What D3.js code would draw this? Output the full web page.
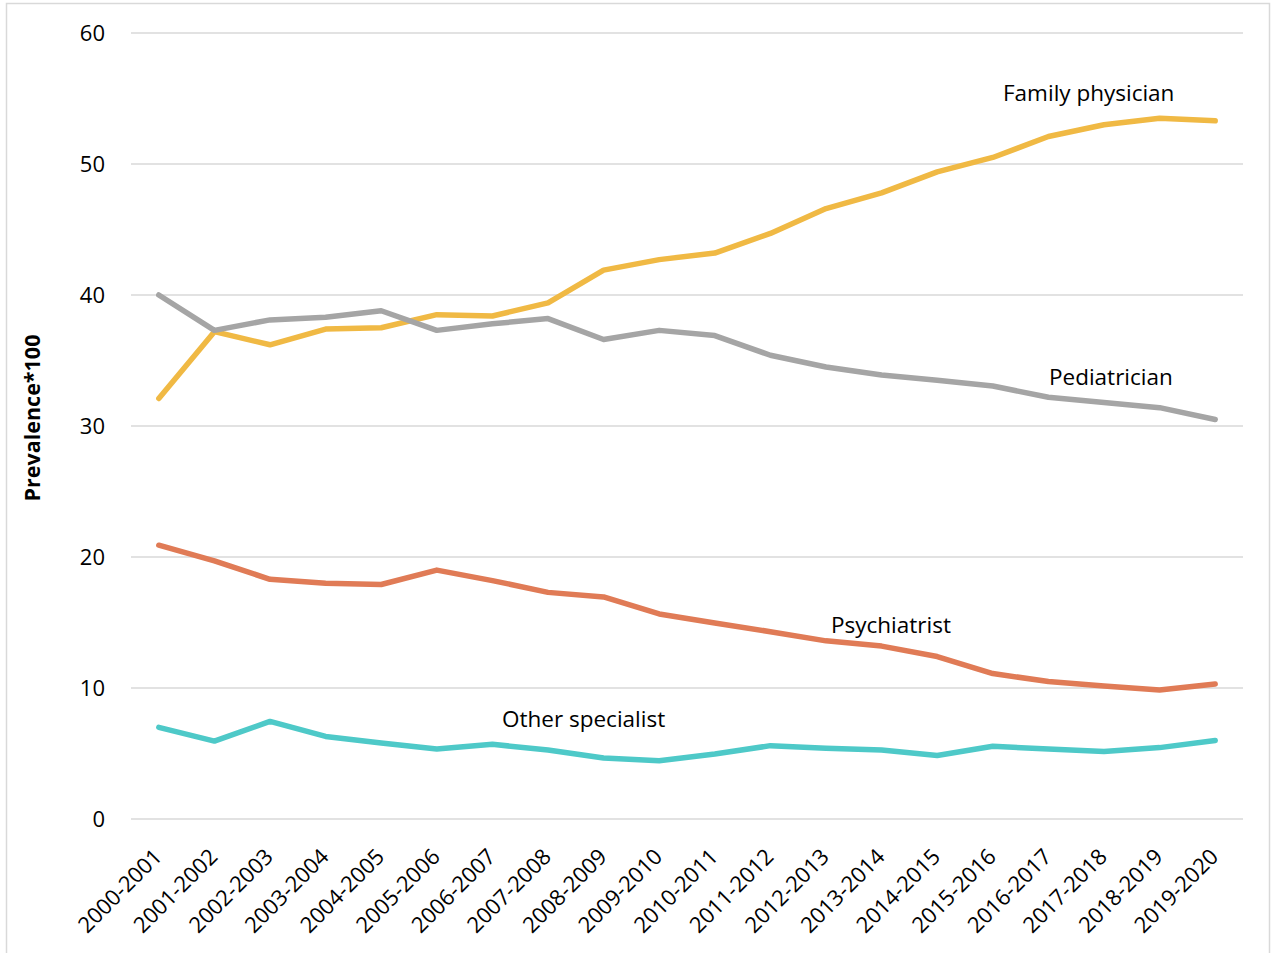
<!DOCTYPE html>
<html>
<head>
<meta charset="utf-8">
<script src="https://cdn.jsdelivr.net/npm/d3@7"></script>
<style>
  html, body { margin: 0; padding: 0; background: #fff; }
  svg { display: block; font-family: "Open Sans", "Noto Sans", sans-serif; }
</style>
</head>
<body>
<svg id="chart" width="1273" height="953"></svg>
<script>
// Fiscal-year periods
const periods = ["2000-2001","2001-2002","2002-2003","2003-2004","2004-2005","2005-2006",
  "2006-2007","2007-2008","2008-2009","2009-2010","2010-2011","2011-2012","2012-2013",
  "2013-2014","2014-2015","2015-2016","2016-2017","2017-2018","2018-2019","2019-2020"];

// Prevalence*100 by prescriber type
const familyPhysician = [32.1,37.2,36.2,37.4,37.5,38.5,38.4,39.4,41.9,42.7,43.2,44.7,46.6,47.8,49.4,50.5,52.1,53.0,53.5,53.3];
const pediatrician    = [40.0,37.3,38.1,38.3,38.8,37.3,37.8,38.2,36.6,37.3,36.9,35.4,34.5,33.9,33.5,33.05,32.2,31.8,31.4,30.5];
const psychiatrist    = [20.9,19.7,18.3,18.0,17.9,19.0,18.2,17.3,16.95,15.65,14.96,14.3,13.6,13.2,12.4,11.1,10.5,10.15,9.85,10.3];
const otherSpecialist = [7.0,5.95,7.45,6.3,5.8,5.35,5.7,5.27,4.65,4.45,4.96,5.6,5.4,5.27,4.85,5.55,5.35,5.15,5.45,6.0];

const yTicks = [0,10,20,30,40,50,60];
const yTitle = "Prevalence*100";

const series = [
  { name: "Family physician", values: familyPhysician, color: "#F0B944", label: [1003, 101] },
  { name: "Pediatrician",     values: pediatrician,    color: "#A5A5A5", label: [1049, 385] },
  { name: "Psychiatrist",     values: psychiatrist,    color: "#E07B56", label: [831, 633] },
  { name: "Other specialist", values: otherSpecialist, color: "#4EC9C8", label: [502, 727] }
];

const svg = d3.select("#chart");
const fontSize = 22;

// outer frame
svg.append("rect").attr("x", 6.5).attr("y", 3.5).attr("width", 1263).attr("height", 960)
  .attr("fill", "none").attr("stroke", "#d9d9d9").attr("stroke-width", 1.5);

const plotLeft = 131, plotRight = 1243, plotTop = 33, plotBottom = 819;

const x = d3.scalePoint().domain(periods).range([plotLeft, plotRight]).padding(0.5);
const y = d3.scaleLinear().domain([0, 60]).range([plotBottom, plotTop]);

// gridlines
svg.append("g").selectAll("line").data(yTicks).join("line")
  .attr("x1", plotLeft).attr("x2", plotRight)
  .attr("y1", d => y(d)).attr("y2", d => y(d))
  .attr("stroke", "#d9d9d9").attr("stroke-width", 1.5);

// y axis labels
const yAxis = svg.append("g").attr("transform", `translate(${plotLeft - 10},0)`)
  .call(d3.axisLeft(y).tickValues(yTicks).tickSize(0).tickPadding(16));
yAxis.select(".domain").remove();
yAxis.selectAll("text").attr("font-size", fontSize).attr("fill", "#000")
  .attr("font-family", "'Open Sans', sans-serif");

// x axis labels, rotated
const xAxis = svg.append("g").attr("transform", `translate(0,${plotBottom})`)
  .call(d3.axisBottom(x).tickSize(0).tickPadding(0));
xAxis.select(".domain").remove();
xAxis.selectAll("text")
  .attr("font-size", fontSize).attr("fill", "#000")
  .attr("font-family", "'Open Sans', sans-serif")
  .attr("text-anchor", "end")
  .attr("dy", null).attr("y", 0)
  .attr("transform", "translate(4,39) rotate(-45)");

// y title
svg.append("text")
  .attr("transform", `translate(40,418) rotate(-90)`)
  .attr("text-anchor", "middle")
  .attr("font-size", 21.5).attr("font-weight", "bold").attr("fill", "#000")
  .text(yTitle);

// lines
const line = d3.line().x((d, i) => x(periods[i])).y(d => y(d));
svg.append("g").selectAll("path").data(series).join("path")
  .attr("d", s => line(s.values))
  .attr("fill", "none").attr("stroke", s => s.color)
  .attr("stroke-width", 5.5).attr("stroke-linecap", "round").attr("stroke-linejoin", "round");

// direct labels
svg.append("g").selectAll("text").data(series).join("text")
  .attr("x", s => s.label[0]).attr("y", s => s.label[1])
  .attr("font-size", 22.5).attr("fill", "#000")
  .text(s => s.name);
</script>
</body>
</html>
